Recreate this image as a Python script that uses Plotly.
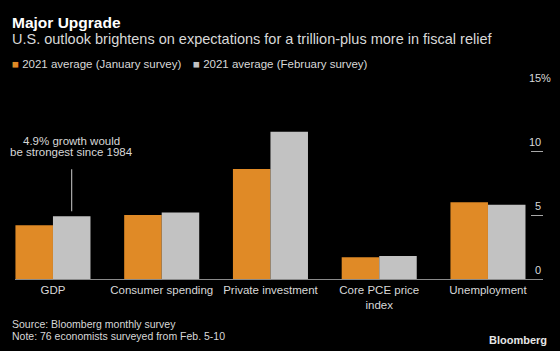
import plotly.graph_objects as go

categories = ["GDP", "Consumer spending", "Private investment", "Core PCE price<br>index", "Unemployment"]
jan_name = "2021 average (January survey)"
feb_name = "2021 average (February survey)"
jan_values = [4.2, 5.0, 8.6, 1.7, 6.0]
feb_values = [4.9, 5.2, 11.5, 1.8, 5.8]
y_ticks = [0, 5, 10, 15]
y_tick_labels = ["0", "5", "10", "15"]
callout_lines = ["4.9% growth would", "be strongest since 1984"]

W, H = 560, 351
L, R, T, B = 15, 17, 87, 71.5
PW, PH = W - L - R, H - T - B

def px(xp):
    return (xp - L) / PW

def py(yp):
    return (H - B - yp) / PH

ORANGE = "#E08A26"
GRAY = "#C2C2C2"
FONT = "Liberation Sans"
TXT = "#D8D8D8"

fig = go.Figure()
fig.add_trace(go.Bar(x=categories, y=jan_values, name=jan_name, marker_color=ORANGE, marker_line_width=0))
fig.add_trace(go.Bar(x=categories, y=feb_values, name=feb_name, marker_color=GRAY, marker_line_width=0))

ann = []
# title & subtitle
ann.append(dict(text="<b>Major Upgrade</b>", x=px(10), y=py(22), xanchor="left", yanchor="middle",
                font=dict(family=FONT, size=15.5, color="#FFFFFF")))
ann.append(dict(text="U.S. outlook brightens on expectations for a trillion-plus more in fiscal relief",
                x=px(10), y=py(39), xanchor="left", yanchor="middle",
                font=dict(family=FONT, size=14.5, color=TXT)))
# legend
ann.append(dict(text=f"<span style='color:{ORANGE}'>■</span> {jan_name}", x=px(10), y=py(64),
                xanchor="left", yanchor="middle", font=dict(family=FONT, size=11.5, color=TXT)))
ann.append(dict(text=f"<span style='color:{GRAY}'>■</span> {feb_name}", x=px(191), y=py(64),
                xanchor="left", yanchor="middle", font=dict(family=FONT, size=11.5, color=TXT)))
# y tick labels
for v, lab in zip(y_ticks, y_tick_labels):
    ann.append(dict(text=lab, x=1, xref="paper", y=v, yref="y", xanchor="right", yanchor="bottom",
                    yshift=1, showarrow=False, font=dict(family=FONT, size=11, color=TXT)))
ann.append(dict(text="%", x=1, xref="paper", y=y_ticks[-1], yref="y", xanchor="left", yanchor="bottom",
                yshift=1, xshift=-4, showarrow=False, font=dict(family=FONT, size=11, color=TXT)))
# GDP callout
for i, line in enumerate(callout_lines):
    ann.append(dict(text=line, x=categories[0], xref="x", xshift=18.75, y=py(141 + 11.5 * i),
                    yanchor="middle", font=dict(family=FONT, size=11.5, color=TXT)))
ann.append(dict(text="", x=categories[0], xref="x", y=feb_values[0], yref="y", xshift=18.75,
                showarrow=True, arrowhead=0, arrowwidth=1, arrowcolor="#CFCFCF",
                ax=0, ay=-48.5, standoff=5))
# source
ann.append(dict(text="Source: Bloomberg monthly survey", x=px(10), y=py(325), xanchor="left", yanchor="middle",
                font=dict(family=FONT, size=10.5, color=TXT)))
ann.append(dict(text="Note: 76 economists surveyed from Feb. 5-10", x=px(10), y=py(337), xanchor="left",
                yanchor="middle", font=dict(family=FONT, size=10.5, color=TXT)))
ann.append(dict(text="<b>Bloomberg</b>", x=px(549), y=py(341), xanchor="right", yanchor="middle",
                font=dict(family=FONT, size=11, color="#E6E6E6")))

for a in ann:
    a.setdefault("xref", "paper")
    a.setdefault("yref", "paper")
    a.setdefault("showarrow", False)

fig.update_layout(
    width=W, height=H, margin=dict(l=L, r=R, t=T, b=B),
    paper_bgcolor="#000000", plot_bgcolor="#000000",
    barmode="group", bargap=0.31, bargroupgap=0,
    showlegend=False,
    annotations=ann,
    font=dict(family=FONT, color=TXT),
)
fig.update_xaxes(type="category", range=[-0.349, 4.506], showline=True, linecolor="#8A8A8A", linewidth=1,
                 ticks="", showgrid=False, zeroline=False,
                 tickfont=dict(family=FONT, size=11.5, color=TXT))
fig.update_yaxes(range=[0, 15], side="right", ticks="inside", ticklen=12, tickcolor="#A8A8A8", tickwidth=1,
                 tickvals=y_ticks, showticklabels=False, showgrid=False, zeroline=False, showline=False)

fig.write_html("out.html")
